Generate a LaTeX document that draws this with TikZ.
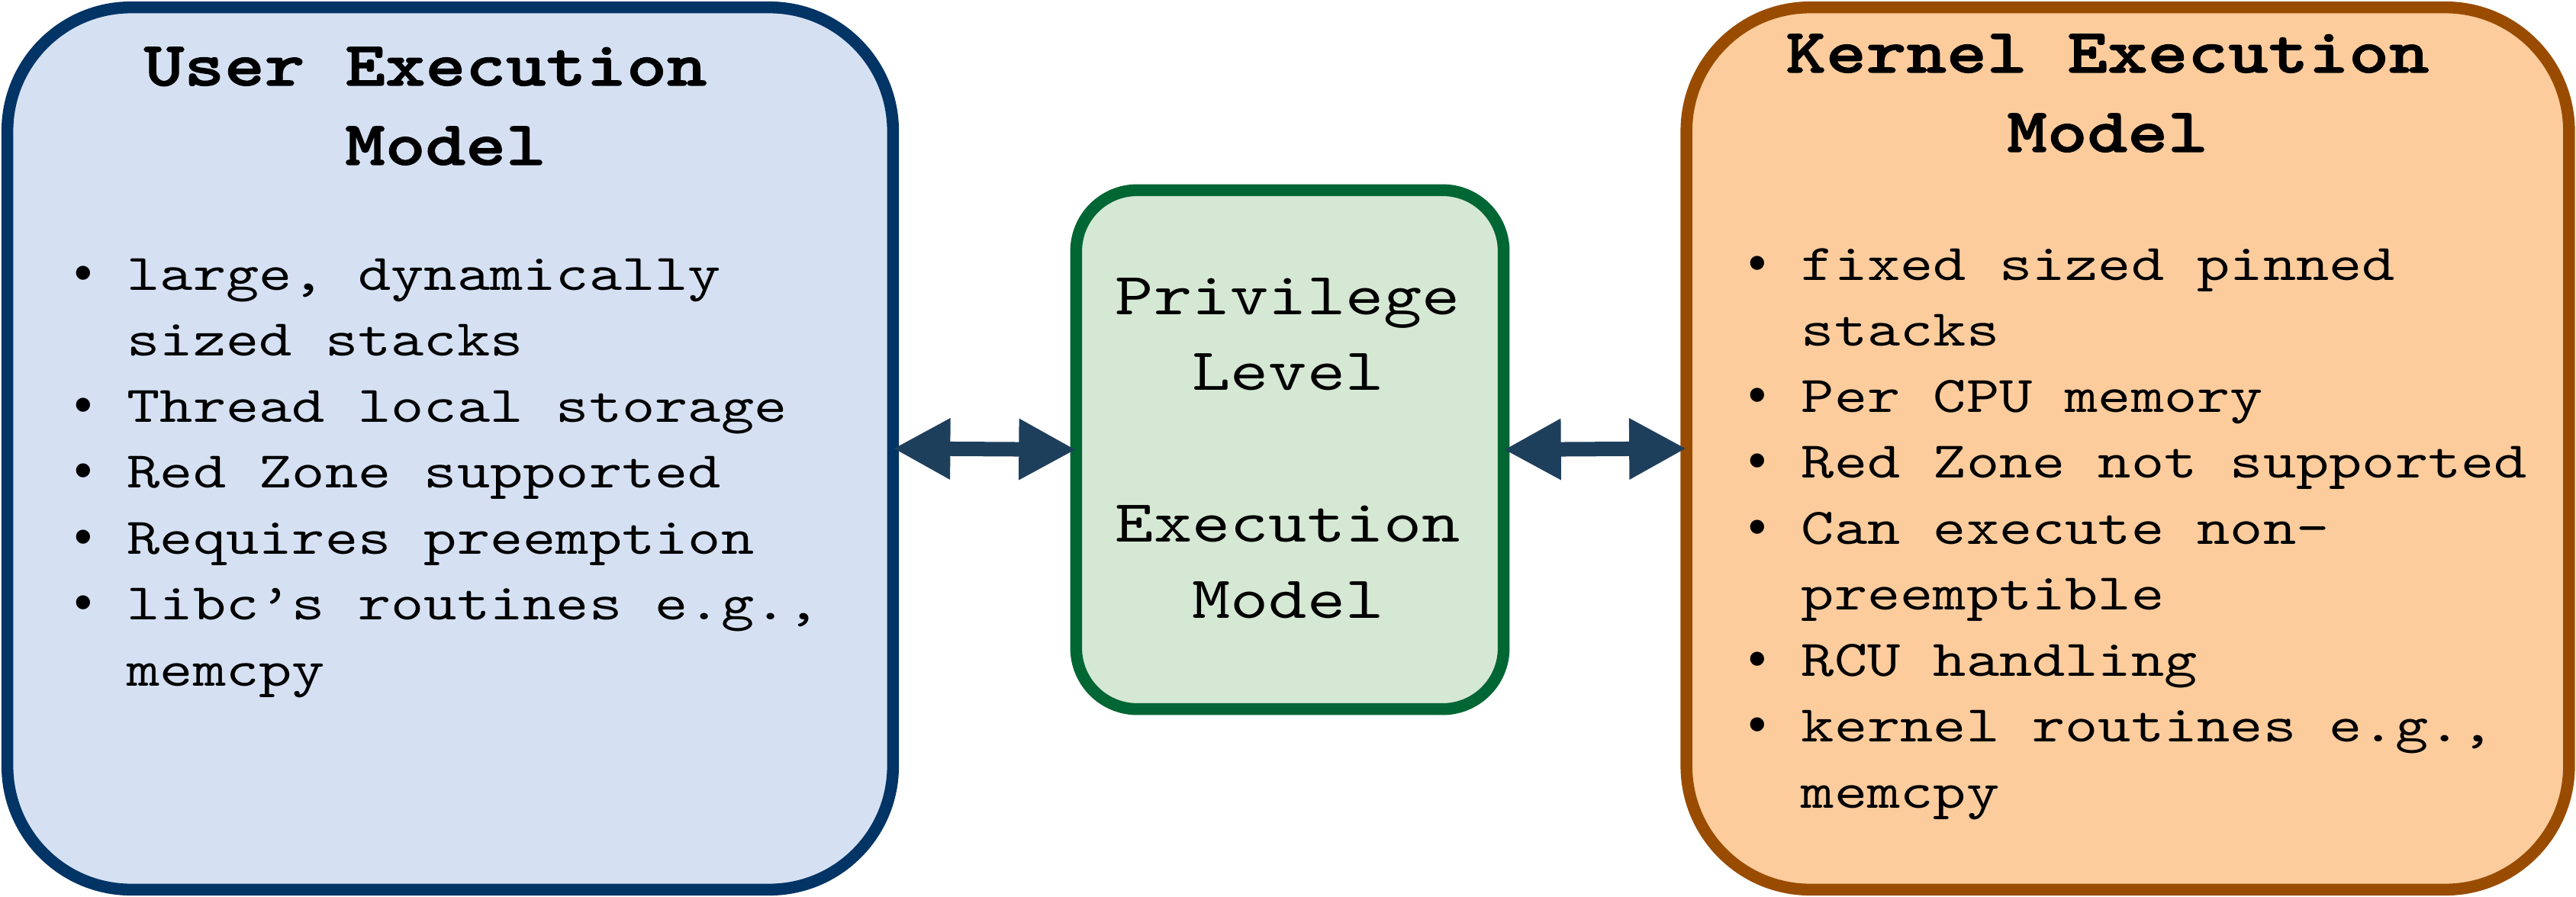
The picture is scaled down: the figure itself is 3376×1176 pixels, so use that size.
\documentclass[tikz,border=0pt]{standalone}
\usepackage{fontspec}
\setmonofont{lmmono10-regular}[Extension=.otf, FakeStretch=1.22]
\newfontfamily\titlefont{lmmonolt10-bold}[Extension=.otf, FakeStretch=1.22,
  FakeBold=1.5]
\newfontfamily\bulletfont{Liberation Sans}
\usepackage{tikz}
\usetikzlibrary{arrows.meta}

\definecolor{userfill}{HTML}{D5E1F3}
\definecolor{userline}{HTML}{023466}
\definecolor{privfill}{HTML}{D5E8D4}
\definecolor{privline}{HTML}{006633}
\definecolor{kernfill}{HTML}{FCCC9D}
\definecolor{kernline}{HTML}{994C00}
\definecolor{linkcol}{HTML}{1E3F5C}

\newcommand{\bitem}{\makebox[0.69cm][l]{\bulletfont •}}
\newcommand{\bcont}{\hspace*{0.69cm}}
% word space one character cell wide
\newcommand{\cellspace}{\spaceskip=0.6405em\relax\xspaceskip=0.6405em\relax}

\tikzset{
  modelbox/.style={draw, line width=0.155cm, rounded corners=1.62cm,
    inner sep=0pt, outer sep=0pt},
  celltext/.style={execute at begin node=\cellspace},
  titletext/.style={celltext, font=\titlefont\fontsize{23.4}{29.6}\selectfont,
    align=center, text width=10cm, inner sep=0pt, anchor=base},
  midtext/.style={celltext, font=\ttfamily\fontsize{22.3}{28.3}\selectfont,
    align=center, text width=5cm, inner sep=0pt, anchor=base},
  bullettext/.style={celltext, font=\ttfamily\fontsize{19.2}{24.6}\selectfont,
    align=left, text width=10.8cm, inner sep=0pt, anchor=base west},
  link/.style={draw=linkcol, line width=0.19cm,
    {Triangle[length=0.75cm,width=0.75cm]}-{Triangle[length=0.75cm,width=0.75cm]}}
}

\begin{document}
\begin{tikzpicture}[x=0.01cm,y=-0.01cm]
  \useasboundingbox (0,0) rectangle (3376,1176);

  \node[modelbox, draw=userline, fill=userfill, minimum width=11.6cm,
    minimum height=11.56cm] (user) at (590,588) {};
  \node[modelbox, draw=privline, fill=privfill, rounded corners=0.8cm,
    minimum width=5.6cm, minimum height=6.8cm] (priv) at (1690.5,589.5) {};
  \node[modelbox, draw=kernline, fill=kernfill, minimum width=11.56cm,
    minimum height=11.56cm] (kernel) at (2788.5,588) {};

  \node[titletext] (usertitle) at (584,112) {User Execution\hspace*{0.64em}\mbox{}\\Model};
  \node[titletext] (kerneltitle) at (2762,95) {Kernel Execution\\Model};

  \node[bullettext] (userlist) at (97,380) {%
    \bitem large, dynamically\\
    \bcont sized stacks\\
    \bitem Thread local storage\\
    \bitem Red Zone supported\\
    \bitem Requires preemption\\
    \bitem libc’s routines e.g.,\\
    \bcont memcpy};

  \node[midtext] (privtext) at (1688,412) {Privilege\\Level\\[0.995cm]Execution\\Model};

  \node[bullettext] (kernellist) at (2291,367) {%
    \bitem fixed sized pinned\\
    \bcont stacks\\
    \bitem Per CPU memory\\
    \bitem Red Zone not supported\\
    \bitem Can execute non-\\
    \bcont preemptible\\
    \bitem RCU handling\\
    \bitem kernel routines e.g.,\\
    \bcont memcpy};

  \draw[link] (user.east) -- (priv.west);
  \draw[link] (priv.east) -- (kernel.west);
\end{tikzpicture}
\end{document}
